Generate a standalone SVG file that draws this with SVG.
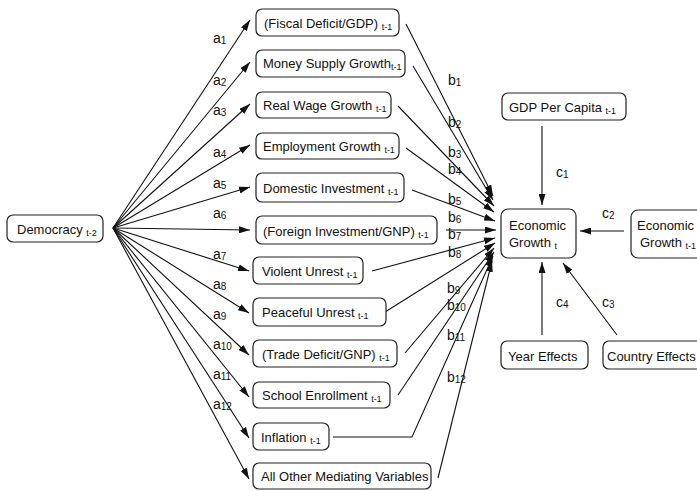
<svg xmlns="http://www.w3.org/2000/svg" width="697" height="491" viewBox="0 0 697 491">
<style>
.box{fill:#fff;stroke:#222;stroke-width:1.2}
.t{font-family:"Liberation Sans",Arial,sans-serif;font-size:13px;fill:#111}
.s{font-size:9px}
.l{font-family:"Liberation Sans",Arial,sans-serif;font-size:14px;fill:#111}
.l .s{font-size:10px}
.e{fill:none;stroke:#111;stroke-width:1.1}
</style>
<defs>
<marker id="ah" markerUnits="userSpaceOnUse" markerWidth="11" markerHeight="7" refX="11" refY="3.5" orient="auto">
<path d="M0,0 L11,3.5 L0,7 Z" fill="#111"/>
</marker>
</defs>
<rect width="697" height="491" fill="#fff"/>

<g id="connectors">
<g class="e" marker-end="url(#ah)">
<line x1="113" y1="228" x2="250" y2="20"/>
<line x1="113" y1="228" x2="250" y2="62"/>
<line x1="113" y1="228" x2="250" y2="104"/>
<line x1="113" y1="228" x2="250" y2="145"/>
<line x1="113" y1="228" x2="250" y2="187"/>
<line x1="113" y1="228" x2="250" y2="230"/>
<line x1="113" y1="228" x2="249" y2="271"/>
<line x1="113" y1="228" x2="249" y2="313"/>
<line x1="113" y1="228" x2="249" y2="355"/>
<line x1="113" y1="228" x2="249" y2="397"/>
<line x1="113" y1="228" x2="249" y2="438"/>
<line x1="113" y1="228" x2="249" y2="479"/>
<line x1="406" y1="24" x2="493" y2="196"/>
<line x1="413" y1="66" x2="493" y2="200"/>
<line x1="398" y1="106" x2="494" y2="206"/>
<line x1="406" y1="148" x2="494" y2="212"/>
<line x1="412" y1="190" x2="495" y2="221"/>
<line x1="446" y1="230" x2="496" y2="230"/>
<line x1="372" y1="271" x2="495" y2="238"/>
<line x1="385" y1="312" x2="495" y2="243"/>
<line x1="405" y1="353" x2="494" y2="248"/>
<line x1="398" y1="395" x2="494" y2="252"/>
<polyline points="333,437 412,437 493,256"/>
<line x1="438" y1="478" x2="492" y2="261"/>
<line x1="542" y1="126" x2="542" y2="205"/>
<line x1="624" y1="231" x2="580" y2="231"/>
<line x1="617" y1="335" x2="563" y2="263"/>
<line x1="542" y1="335" x2="542" y2="262"/>
</g>
<g class="l">
<text x="213" y="43">a<tspan class="s" dy="1">1</tspan></text>
<text x="213" y="85">a<tspan class="s" dy="1">2</tspan></text>
<text x="213" y="115">a<tspan class="s" dy="1">3</tspan></text>
<text x="213" y="157">a<tspan class="s" dy="1">4</tspan></text>
<text x="213" y="188">a<tspan class="s" dy="1">5</tspan></text>
<text x="213" y="218">a<tspan class="s" dy="1">6</tspan></text>
<text x="213" y="259">a<tspan class="s" dy="1">7</tspan></text>
<text x="213" y="289">a<tspan class="s" dy="1">8</tspan></text>
<text x="213" y="319">a<tspan class="s" dy="1">9</tspan></text>
<text x="213" y="349">a<tspan class="s" dy="1">10</tspan></text>
<text x="213" y="379">a<tspan class="s" dy="1">11</tspan></text>
<text x="213" y="409">a<tspan class="s" dy="1">12</tspan></text>
<text x="448" y="85">b<tspan class="s" dy="1">1</tspan></text>
<text x="448" y="127">b<tspan class="s" dy="1">2</tspan></text>
<text x="448" y="157">b<tspan class="s" dy="1">3</tspan></text>
<text x="448" y="174">b<tspan class="s" dy="1">4</tspan></text>
<text x="448" y="204">b<tspan class="s" dy="1">5</tspan></text>
<text x="448" y="222">b<tspan class="s" dy="1">6</tspan></text>
<text x="448" y="239">b<tspan class="s" dy="1">7</tspan></text>
<text x="448" y="257">b<tspan class="s" dy="1">8</tspan></text>
<text x="447" y="293">b<tspan class="s" dy="1">9</tspan></text>
<text x="447" y="310">b<tspan class="s" dy="1">10</tspan></text>
<text x="447" y="340">b<tspan class="s" dy="1">11</tspan></text>
<text x="447" y="382">b<tspan class="s" dy="1">12</tspan></text>
<text x="556" y="177">c<tspan class="s" dy="1">1</tspan></text>
<text x="602" y="218">c<tspan class="s" dy="1">2</tspan></text>
<text x="602" y="307">c<tspan class="s" dy="1">3</tspan></text>
<text x="556" y="307">c<tspan class="s" dy="1">4</tspan></text>
</g>
</g>

<g id="democracy"><rect class="box" x="7" y="215" width="96" height="27" rx="6"/><text class="t" x="17" y="234">Democracy <tspan class="s" dy="2">t-2</tspan></text></g>

<g id="fiscal"><rect class="box" x="256" y="9" width="143" height="27" rx="6"/><text class="t" x="264" y="28">(Fiscal Deficit/GDP) <tspan class="s" dy="2">t-1</tspan></text></g>
<g id="money"><rect class="box" x="256" y="50" width="149" height="27" rx="6"/><text class="t" x="263" y="68">Money Supply Growth<tspan class="s" dy="2">t-1</tspan></text></g>
<g id="wage"><rect class="box" x="256" y="92" width="135" height="26" rx="6"/><text class="t" x="263" y="110">Real Wage Growth <tspan class="s" dy="2">t-1</tspan></text></g>
<g id="employment"><rect class="box" x="256" y="133" width="143" height="26" rx="6"/><text class="t" x="263" y="151">Employment Growth <tspan class="s" dy="2">t-1</tspan></text></g>
<g id="domestic"><rect class="box" x="256" y="173" width="148" height="29" rx="6"/><text class="t" x="263" y="193">Domestic Investment <tspan class="s" dy="2">t-1</tspan></text></g>
<g id="foreign"><rect class="box" x="256" y="216" width="181" height="28" rx="6"/><text class="t" x="263" y="236">(Foreign Investment/GNP) <tspan class="s" dy="2">t-1</tspan></text></g>
<g id="violent"><rect class="box" x="253" y="257" width="110" height="27" rx="6"/><text class="t" x="262" y="276">Violent Unrest <tspan class="s" dy="2">t-1</tspan></text></g>
<g id="peaceful"><rect class="box" x="253" y="298" width="133" height="28" rx="6"/><text class="t" x="262" y="317">Peaceful Unrest <tspan class="s" dy="2">t-1</tspan></text></g>
<g id="trade"><rect class="box" x="253" y="340" width="144" height="27" rx="6"/><text class="t" x="262" y="359">(Trade Deficit/GNP) <tspan class="s" dy="2">t-1</tspan></text></g>
<g id="school"><rect class="box" x="253" y="382" width="137" height="26" rx="6"/><text class="t" x="262" y="400">School Enrollment <tspan class="s" dy="2">t-1</tspan></text></g>
<g id="inflation"><rect class="box" x="253" y="423" width="76" height="27" rx="6"/><text class="t" x="261" y="442">Inflation <tspan class="s" dy="2">t-1</tspan></text></g>
<g id="other"><rect class="box" x="253" y="463" width="178" height="26" rx="6"/><text class="t" x="261" y="481">All Other Mediating Variables</text></g>

<g id="gdp"><rect class="box" x="502" y="93" width="124" height="27" rx="6"/><text class="t" x="509" y="112">GDP Per Capita <tspan class="s" dy="2">t-1</tspan></text></g>
<g id="growth"><rect class="box" x="501" y="209" width="75" height="49" rx="7"/><text class="t" x="509" y="230">Economic</text><text class="t" x="509" y="247">Growth <tspan class="s" dy="2">t</tspan></text></g>
<g id="growthlag"><rect class="box" x="631" y="210" width="80" height="48" rx="7"/><text class="t" x="637" y="230">Economic</text><text class="t" x="640" y="247">Growth <tspan class="s" dy="2">t-1</tspan></text></g>
<g id="year"><rect class="box" x="501" y="341" width="87" height="28" rx="6"/><text class="t" x="508" y="361">Year Effects</text></g>
<g id="country"><rect class="box" x="603" y="341" width="110" height="28" rx="6"/><text class="t" x="607" y="361">Country Effects</text></g>
</svg>
